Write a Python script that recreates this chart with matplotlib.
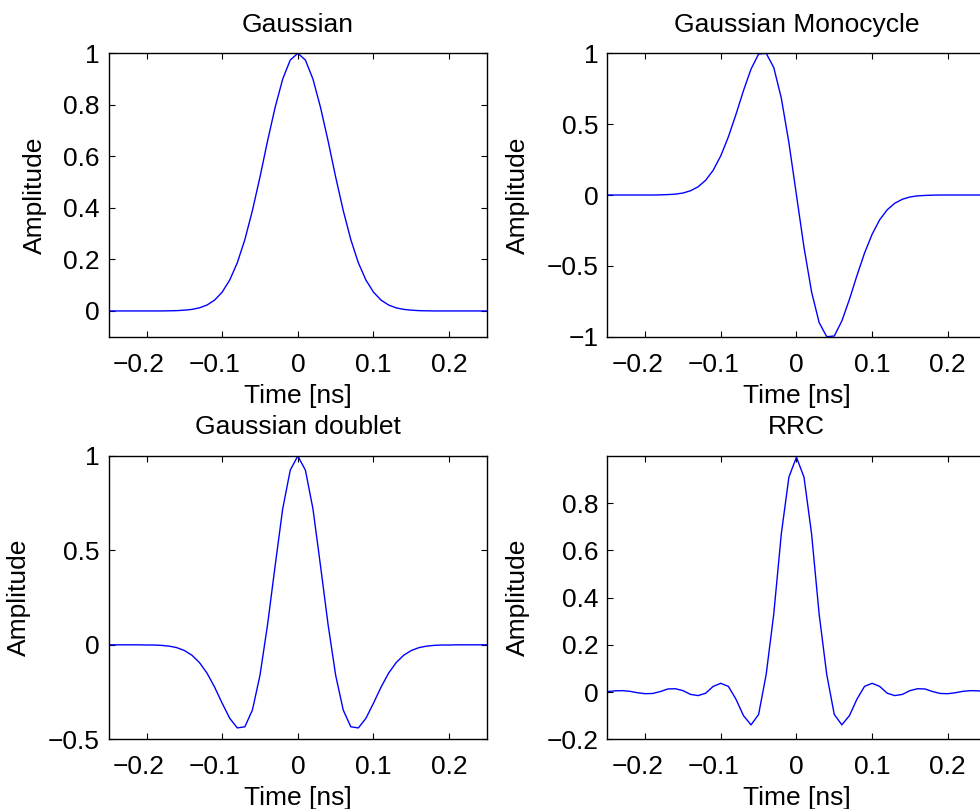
import numpy as np
import matplotlib
matplotlib.use("Agg")
import matplotlib.pyplot as plt
from matplotlib.transforms import ScaledTranslation

plt.rcParams['font.family'] = ['Liberation Sans', 'DejaVu Sans']
plt.rcParams['font.size'] = 19
plt.rcParams['axes.titlesize'] = 19

# sample times (ns), 0.01 ns spacing
t = np.linspace(-0.25, 0.25, 51)

gaussian = [0.0, 0.0, 0.0, 0.0, 0.0, 0.0, 0.0, 0.0,
            0.0005, 0.0012, 0.003, 0.006, 0.012, 0.023, 0.042, 0.073, 0.12,
            0.187, 0.277, 0.39, 0.52, 0.66, 0.79, 0.90, 0.974,
            1.0,
            0.974, 0.90, 0.79, 0.66, 0.52, 0.39, 0.277, 0.187,
            0.12, 0.073, 0.042, 0.023, 0.012, 0.006, 0.003, 0.0012, 0.0005,
            0.0, 0.0, 0.0, 0.0, 0.0, 0.0, 0.0, 0.0]

monocycle = [0.0, 0.0, 0.0, 0.0, 0.0, 0.0, 0.0,
             0.001, 0.003, 0.006, 0.014, 0.03, 0.058, 0.104, 0.175, 0.277,
             0.41, 0.568, 0.737, 0.889, 0.995, 1.0, 0.90, 0.684, 0.37,
             0.0,
             -0.37, -0.684, -0.90, -1.0, -0.995, -0.889, -0.737, -0.568, -0.41,
             -0.277, -0.175, -0.104, -0.058, -0.03, -0.014, -0.006, -0.003, -0.001,
             0.0, 0.0, 0.0, 0.0, 0.0, 0.0, 0.0]

doublet = [0.0, 0.0, 0.0, 0.0, 0.0,
           -0.001, -0.001, -0.003, -0.007, -0.015, -0.030, -0.055, -0.094, -0.150,
           -0.224, -0.309, -0.389, -0.440, -0.434, -0.345, -0.161, 0.107, 0.418,
           0.72, 0.925,
           1.0,
           0.925, 0.72, 0.418, 0.107, -0.161, -0.345, -0.434, -0.440, -0.389,
           -0.309, -0.224, -0.150, -0.094, -0.055, -0.030, -0.015, -0.007, -0.003,
           -0.001, -0.001, 0.0, 0.0, 0.0, 0.0, 0.0]

rrc = [0.002, 0.005, 0.006, 0.003, -0.003, -0.007, -0.006, 0.002, 0.013, 0.014,
       0.006, -0.010, -0.015, -0.005, 0.024, 0.037, 0.024, -0.030, -0.100, -0.139,
       -0.095, 0.075, 0.33, 0.67, 0.91,
       0.995,
       0.91, 0.67, 0.33, 0.075, -0.095, -0.139, -0.100, -0.030, 0.024, 0.037,
       0.024, -0.005, -0.015, -0.010, 0.006, 0.014, 0.013, 0.002, -0.006, -0.007,
       -0.003, 0.003, 0.006, 0.005, 0.002]

titles = ["Gaussian", "Gaussian Monocycle", "Gaussian doublet", "RRC"]
series = [gaussian, monocycle, doublet, rrc]
ylims = [(-0.1, 1.0), (-1.0, 1.0), (-0.5, 1.0), (-0.2, 1.0)]
yticks = [[0, 0.2, 0.4, 0.6, 0.8, 1], [-1, -0.5, 0, 0.5, 1],
          [-0.5, 0, 0.5, 1], [-0.2, 0, 0.2, 0.4, 0.6, 0.8]]
xticks = [-0.2, -0.1, 0, 0.1, 0.2]


def fmt(v):
    return f"{v:g}".replace('-', '\u2212')


fig = plt.figure(figsize=(9.8, 8.09), dpi=100)
# axes boxes (right column runs past the figure edge, as in the original)
boxes = [[0.1109, 0.5838, 0.386, 0.3503], [0.6197, 0.5838, 0.386, 0.3503],
         [0.1109, 0.0862, 0.386, 0.3502], [0.6197, 0.0862, 0.386, 0.3502]]

# MATLAB centres the digits on the tick and lets the minus hang to the left
minus_shift = ScaledTranslation(-7.5 / 100, 0, fig.dpi_scale_trans)

for box, title, y, yl, yt in zip(boxes, titles, series, ylims, yticks):
    ax = fig.add_axes(box)
    ax.plot(t, y, color='#0000ff', lw=1.0)
    ax.set_xlim(-0.25, 0.25)
    ax.set_ylim(*yl)
    ax.set_xticks(xticks)
    ax.set_xticklabels([fmt(v) for v in xticks])
    ax.set_yticks(yt)
    ax.set_yticklabels([fmt(v) for v in yt])
    ax.tick_params(direction='in', length=4, width=0.8, top=True, right=True)
    ax.tick_params(axis='y', pad=6.3)
    ax.tick_params(axis='x', pad=11.5)
    for v, lab in zip(xticks, ax.get_xticklabels()):
        if v < 0:
            lab.set_transform(lab.get_transform() + minus_shift)
    for s in ax.spines.values():
        s.set_linewidth(1.0)
    ax.set_title(title, pad=15.5)
    ax.set_xlabel("Time [ns]", labelpad=5)
    ax.set_ylabel("Amplitude", labelpad=12)

fig.savefig("out.png", dpi=100)
